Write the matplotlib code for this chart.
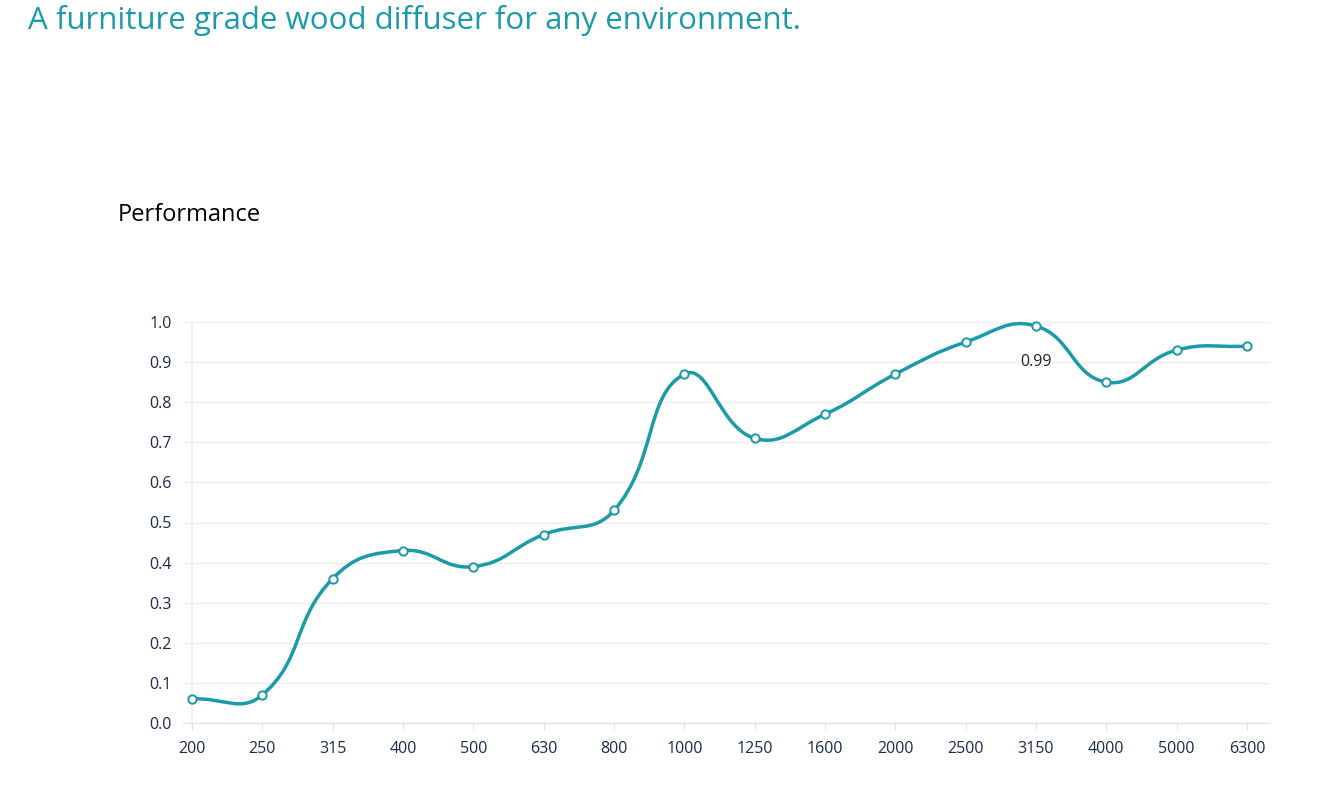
import numpy as np
import matplotlib.pyplot as plt
from matplotlib.path import Path
from matplotlib.patches import PathPatch

freqs = ["200", "250", "315", "400", "500", "630", "800", "1000", "1250",
         "1600", "2000", "2500", "3150", "4000", "5000", "6300"]
perf = [0.06, 0.07, 0.36, 0.43, 0.39, 0.47, 0.53, 0.87, 0.71,
        0.77, 0.87, 0.95, 0.99, 0.85, 0.93, 0.94]
yticks = [0.0, 0.1, 0.2, 0.3, 0.4, 0.5, 0.6, 0.7, 0.8, 0.9, 1.0]

teal = "#1b9aaa"
label_col = "#1c2b4a"
grid_col = "#eeeeee"

plt.rcParams['font.family'] = ['Open Sans', 'DejaVu Sans']

fig = plt.figure(figsize=(13.36, 8.1), dpi=100)
ax = fig.add_axes([183 / 1336, 87 / 810, 1087 / 1336, 401 / 810])

fig.text(28 / 1336, 1 - 20 / 810, "A furniture grade wood diffuser for any environment.",
         color=teal, fontsize=22.5, va="center", ha="left")
fig.text(118 / 1336, 1 - 215 / 810, "Performance", color="black",
         fontsize=17, va="center", ha="left")

x = np.arange(len(freqs))
y = np.array(perf)

# smooth curve (bezier, echarts-like smoothing) in pixel-like units
sx, sy = 70.3, 401.0
px, py = x * sx, y * sy
smooth = 0.45
cps = []
n = len(px)
for i in range(n):
    p = np.array([px[i], py[i]])
    prev = np.array([px[i - 1], py[i - 1]]) if i > 0 else p
    nxt = np.array([px[i + 1], py[i + 1]]) if i < n - 1 else p
    v = nxt - prev
    d0 = np.hypot(*(p - prev))
    d1 = np.hypot(*(nxt - p))
    tot = d0 + d1 if d0 + d1 > 0 else 1
    cps.append((p - v * smooth * d0 / tot, p + v * smooth * d1 / tot))

verts = [(px[0] / sx, py[0] / sy)]
codes = [Path.MOVETO]
for i in range(n - 1):
    c1 = cps[i][1]
    c2 = cps[i + 1][0]
    verts += [(c1[0] / sx, c1[1] / sy), (c2[0] / sx, c2[1] / sy), (px[i + 1] / sx, py[i + 1] / sy)]
    codes += [Path.CURVE4] * 3
ax.add_patch(PathPatch(Path(verts, codes), facecolor="none", edgecolor=teal,
                       lw=2.5, clip_on=False, zorder=3))
ax.plot(x, y, "o", ms=6, mfc="white", mec=teal, mew=1.4, clip_on=False, zorder=4)

i_max = int(np.argmax(y))
ax.annotate(f"{y[i_max]:.2f}", (x[i_max], y[i_max]), xytext=(0, -26),
            textcoords="offset points", ha="center", va="center",
            fontsize=11.5, color="#222222")

ax.set_xlim(-9 / 70.3, n - 1 + 23 / 70.3)
ax.set_ylim(0, 1.0)
ax.set_yticks(yticks)
ax.set_yticklabels([f"{t:.1f}" for t in yticks])
ax.set_xticks(x)
ax.set_xticklabels(freqs)
ax.yaxis.grid(True, color=grid_col, lw=1)
ax.set_axisbelow(True)
ax.axvline(0, color=grid_col, lw=1.2, zorder=0)
for s in ["top", "right", "left"]:
    ax.spines[s].set_visible(False)
ax.spines["bottom"].set_color("#e0e0e0")
ax.tick_params(axis="y", length=0, pad=8, labelsize=11.5, labelcolor=label_col)
ax.tick_params(axis="x", length=5, color="#e0e0e0", pad=8, labelsize=11.5, labelcolor=label_col)

fig.savefig("out.png", dpi=100)
